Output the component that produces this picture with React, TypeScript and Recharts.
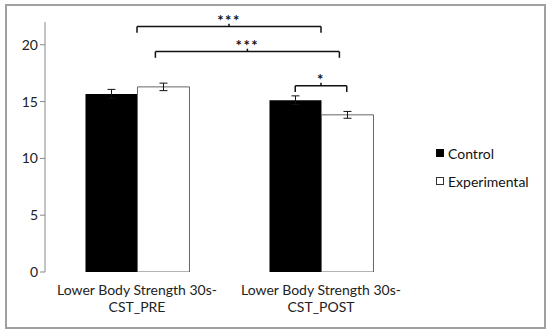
import { BarChart, Bar, XAxis, YAxis, ErrorBar, ReferenceLine } from 'recharts';

const categories = ['Lower Body Strength 30s-CST_PRE', 'Lower Body Strength 30s-CST_POST'];
const controlValues = [15.67, 15.12];
const controlErrors = [0.4, 0.38];
const experimentalValues = [16.29, 13.83];
const experimentalErrors = [0.33, 0.3];
const yTicks = [0, 5, 10, 15, 20];
const seriesNames = ['Control', 'Experimental'];

// significance brackets, in units of the hidden numeric x axis (one unit per category)
const brackets = [
  { x1: 0.5, x2: 1.5, y: 21.6, drop: 0.55, label: '***' },
  { x1: 0.6, x2: 1.6, y: 19.4, drop: 0.55, label: '***' },
  { x1: 1.36, x2: 1.64, y: 16.4, drop: 0.55, label: '*' },
];

const data = categories.map((name, i) => ({
  name,
  pos: i + 0.5,
  control: controlValues[i],
  controlErr: controlErrors[i],
  experimental: experimentalValues[i],
  experimentalErr: experimentalErrors[i],
}));

const FONT = 'Lato, "Open Sans", sans-serif';

const CategoryTick = ({ x, y, payload }) => {
  const text = String(payload.value);
  const cut = text.indexOf('-') + 1;
  const lines = [text.slice(0, cut), text.slice(cut)];
  return (
    <text x={x} y={y} textAnchor="middle" fill="#222" fontSize={14} fontFamily={FONT}>
      {lines.map((l, i) => (
        <tspan key={i} x={x} dy={i === 0 ? 15 : 17}>
          {l}
        </tspan>
      ))}
    </text>
  );
};

const Stars = ({ viewBox, value }) => {
  const cx = viewBox.x + viewBox.width / 2;
  return (
    <text
      x={cx}
      y={viewBox.y - 1}
      textAnchor="middle"
      fontSize={15}
      fontWeight="bold"
      letterSpacing={1.5}
      fill="#111"
      fontFamily={FONT}
    >
      {value}
    </text>
  );
};

export default function App() {
  return (
    <div style={{ position: 'absolute', left: 0, top: 0, width: 550, height: 333, background: '#fff' }}>
      <div
        style={{
          position: 'absolute',
          left: 5,
          top: 4,
          width: 537,
          height: 321,
          border: '2px solid #a0a0a0',
        }}
      />
      <BarChart
        width={550}
        height={333}
        data={data}
        margin={{ top: 22, right: 137, bottom: 11, left: 0 }}
        barCategoryGap="22%"
        barGap={0}
        style={{ position: 'absolute', left: 0, top: 0 }}
      >
        <XAxis
          xAxisId="num"
          dataKey="pos"
          type="number"
          domain={[0, 2]}
          allowDataOverflow
          ticks={[0, 1, 2]}
          height={0}
          stroke="#888"
          tickSize={5}
          tickFormatter={() => ''}
        />
        <XAxis
          dataKey="name"
          height={50}
          axisLine={false}
          tickLine={false}
          interval={0}
          tick={CategoryTick}
        />
        <YAxis
          domain={[0, 22]}
          ticks={yTicks}
          width={45}
          stroke="#888"
          tickSize={5}
          tick={{ fill: '#222', fontSize: 14, fontFamily: FONT }}
          allowDataOverflow
        />
        <Bar dataKey="control" fill="#000" isAnimationActive={false}>
          <ErrorBar dataKey="controlErr" width={4} stroke="#111" strokeWidth={1} />
        </Bar>
        <Bar dataKey="experimental" fill="#fff" stroke="#666" strokeWidth={1} isAnimationActive={false}>
          <ErrorBar dataKey="experimentalErr" width={4} stroke="#111" strokeWidth={1} />
        </Bar>
        {brackets.map((b, i) => [
          <ReferenceLine
            key={`h${i}`}
            xAxisId="num"
            segment={[{ x: b.x1, y: b.y }, { x: b.x2, y: b.y }]}
            stroke="#111"
            strokeWidth={1.5}
            ifOverflow="visible"
            label={<Stars value={b.label} />}
          />,
          <ReferenceLine
            key={`l${i}`}
            xAxisId="num"
            segment={[{ x: b.x1, y: b.y }, { x: b.x1, y: b.y - b.drop }]}
            stroke="#111"
            strokeWidth={1.5}
            ifOverflow="visible"
          />,
          <ReferenceLine
            key={`r${i}`}
            xAxisId="num"
            segment={[{ x: b.x2, y: b.y }, { x: b.x2, y: b.y - b.drop }]}
            stroke="#111"
            strokeWidth={1.5}
            ifOverflow="visible"
          />,
          <ReferenceLine
            key={`m${i}`}
            xAxisId="num"
            segment={[{ x: (b.x1 + b.x2) / 2, y: b.y }, { x: (b.x1 + b.x2) / 2, y: b.y + 0.25 }]}
            stroke="#111"
            strokeWidth={1.5}
            ifOverflow="visible"
          />,
        ])}
      </BarChart>
      <div style={{ position: 'absolute', left: 436, top: 139, fontFamily: FONT, fontSize: 14, color: '#111' }}>
        {seriesNames.map((n, i) => (
          <div key={n} style={{ display: 'flex', alignItems: 'center', height: 28 }}>
            <span
              style={{
                display: 'inline-block',
                width: 8,
                height: 8,
                marginRight: 4,
                background: i === 0 ? '#000' : '#fff',
                border: i === 0 ? '1px solid #000' : '1px solid #333',
                boxSizing: 'border-box',
              }}
            />
            {n}
          </div>
        ))}
      </div>
    </div>
  );
}
